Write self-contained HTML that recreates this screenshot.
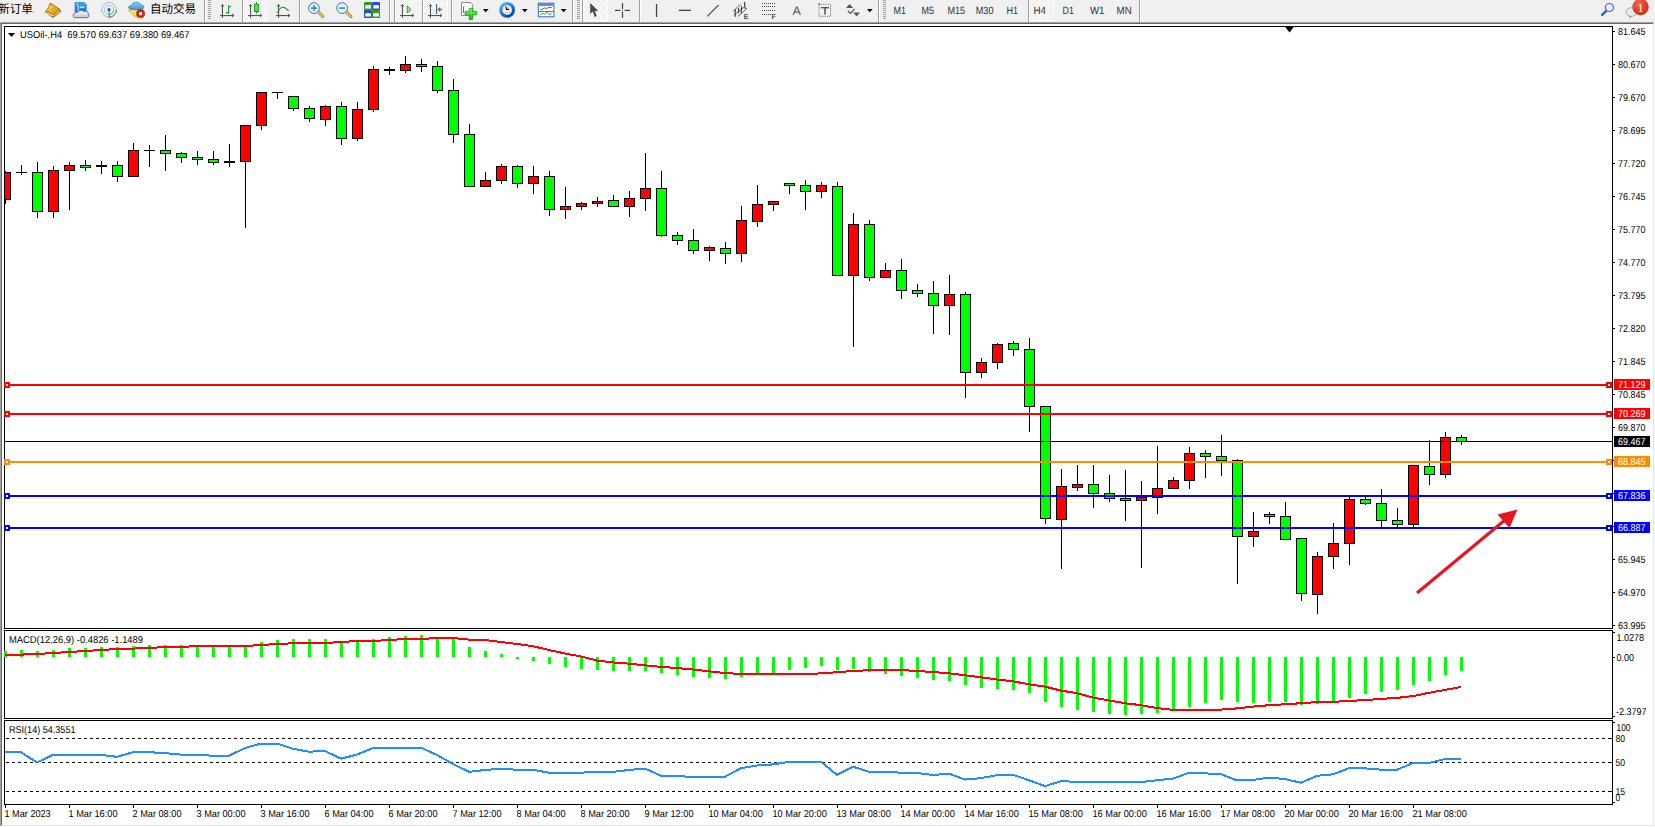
<!DOCTYPE html>
<html><head><meta charset="utf-8"><title>USOil-,H4</title>
<style>
html,body{margin:0;padding:0;width:1655px;height:827px;overflow:hidden;background:#f0f0f0;}
svg{position:absolute;left:0;top:0;display:block;font-family:'Liberation Sans', Arial, sans-serif;}
</style></head><body>
<svg width="1655" height="827" viewBox="0 0 1655 827" text-rendering="geometricPrecision">
<defs><pattern id="dither" x="0" y="0" width="2" height="2" patternUnits="userSpaceOnUse"><rect width="2" height="2" fill="#fff"/><rect width="1" height="1" fill="#ececec"/><rect x="1" y="1" width="1" height="1" fill="#ececec"/></pattern></defs>
<rect x="0" y="0" width="1655" height="22" fill="#f0f0f0"/>
<rect x="243" y="0" width="24" height="20" fill="url(#dither)"/>
<rect x="267" y="0" width="1" height="21" fill="#fff"/>
<rect x="242" y="20" width="26" height="1" fill="#fff"/>
<rect x="395" y="0" width="24" height="20" fill="url(#dither)"/>
<rect x="419" y="0" width="1" height="21" fill="#fff"/>
<rect x="394" y="20" width="26" height="1" fill="#fff"/>
<rect x="423" y="0" width="24" height="20" fill="url(#dither)"/>
<rect x="447" y="0" width="1" height="21" fill="#fff"/>
<rect x="422" y="20" width="26" height="1" fill="#fff"/>
<rect x="583" y="0" width="24" height="20" fill="url(#dither)"/>
<rect x="607" y="0" width="1" height="21" fill="#fff"/>
<rect x="582" y="20" width="26" height="1" fill="#fff"/>
<rect x="1029" y="0" width="24" height="20" fill="url(#dither)"/>
<rect x="1053" y="0" width="1" height="21" fill="#fff"/>
<rect x="1028" y="20" width="26" height="1" fill="#fff"/>
<text x="-2" y="13.1" font-size="12" font-family="'Liberation Sans', 'Noto Sans CJK SC', 'WenQuanYi Zen Hei', sans-serif" fill="#000" textLength="35" lengthAdjust="spacingAndGlyphs">新订单</text>
<text x="150" y="13.1" font-size="12" font-family="'Liberation Sans', 'Noto Sans CJK SC', 'WenQuanYi Zen Hei', sans-serif" fill="#000" textLength="46" lengthAdjust="spacingAndGlyphs">自动交易</text>
<rect x="204" y="0" width="1" height="22" fill="#a0a0a0"/>
<rect x="205" y="0" width="1" height="22" fill="#fff"/>
<rect x="208" y="0" width="3" height="1" fill="#a0a0a0"/>
<rect x="208" y="2" width="3" height="1" fill="#a0a0a0"/>
<rect x="208" y="4" width="3" height="1" fill="#a0a0a0"/>
<rect x="208" y="6" width="3" height="1" fill="#a0a0a0"/>
<rect x="208" y="8" width="3" height="1" fill="#a0a0a0"/>
<rect x="208" y="10" width="3" height="1" fill="#a0a0a0"/>
<rect x="208" y="12" width="3" height="1" fill="#a0a0a0"/>
<rect x="208" y="14" width="3" height="1" fill="#a0a0a0"/>
<rect x="208" y="16" width="3" height="1" fill="#a0a0a0"/>
<rect x="208" y="18" width="3" height="1" fill="#a0a0a0"/>
<rect x="242" y="0" width="1" height="22" fill="#a0a0a0"/>
<rect x="243" y="0" width="1" height="22" fill="#fff"/>
<rect x="299" y="0" width="1" height="22" fill="#a0a0a0"/>
<rect x="300" y="0" width="1" height="22" fill="#fff"/>
<rect x="389" y="0" width="1" height="22" fill="#a0a0a0"/>
<rect x="390" y="0" width="1" height="22" fill="#fff"/>
<rect x="394" y="0" width="1" height="22" fill="#a0a0a0"/>
<rect x="395" y="0" width="1" height="22" fill="#fff"/>
<rect x="422" y="0" width="1" height="22" fill="#a0a0a0"/>
<rect x="423" y="0" width="1" height="22" fill="#fff"/>
<rect x="451" y="0" width="1" height="22" fill="#a0a0a0"/>
<rect x="452" y="0" width="1" height="22" fill="#fff"/>
<rect x="572" y="0" width="1" height="22" fill="#a0a0a0"/>
<rect x="573" y="0" width="1" height="22" fill="#fff"/>
<rect x="577" y="0" width="3" height="1" fill="#a0a0a0"/>
<rect x="577" y="2" width="3" height="1" fill="#a0a0a0"/>
<rect x="577" y="4" width="3" height="1" fill="#a0a0a0"/>
<rect x="577" y="6" width="3" height="1" fill="#a0a0a0"/>
<rect x="577" y="8" width="3" height="1" fill="#a0a0a0"/>
<rect x="577" y="10" width="3" height="1" fill="#a0a0a0"/>
<rect x="577" y="12" width="3" height="1" fill="#a0a0a0"/>
<rect x="577" y="14" width="3" height="1" fill="#a0a0a0"/>
<rect x="577" y="16" width="3" height="1" fill="#a0a0a0"/>
<rect x="577" y="18" width="3" height="1" fill="#a0a0a0"/>
<rect x="582" y="0" width="1" height="22" fill="#a0a0a0"/>
<rect x="583" y="0" width="1" height="22" fill="#fff"/>
<rect x="639" y="0" width="1" height="22" fill="#a0a0a0"/>
<rect x="640" y="0" width="1" height="22" fill="#fff"/>
<rect x="878" y="0" width="1" height="22" fill="#a0a0a0"/>
<rect x="879" y="0" width="1" height="22" fill="#fff"/>
<rect x="883" y="0" width="3" height="1" fill="#a0a0a0"/>
<rect x="883" y="2" width="3" height="1" fill="#a0a0a0"/>
<rect x="883" y="4" width="3" height="1" fill="#a0a0a0"/>
<rect x="883" y="6" width="3" height="1" fill="#a0a0a0"/>
<rect x="883" y="8" width="3" height="1" fill="#a0a0a0"/>
<rect x="883" y="10" width="3" height="1" fill="#a0a0a0"/>
<rect x="883" y="12" width="3" height="1" fill="#a0a0a0"/>
<rect x="883" y="14" width="3" height="1" fill="#a0a0a0"/>
<rect x="883" y="16" width="3" height="1" fill="#a0a0a0"/>
<rect x="883" y="18" width="3" height="1" fill="#a0a0a0"/>
<rect x="1028" y="0" width="1" height="22" fill="#a0a0a0"/>
<rect x="1029" y="0" width="1" height="22" fill="#fff"/>
<rect x="1139" y="0" width="1" height="22" fill="#a0a0a0"/>
<rect x="1140" y="0" width="1" height="22" fill="#fff"/>
<text x="893.6" y="14" font-size="10.5" fill="#333" textLength="12.4" lengthAdjust="spacingAndGlyphs">M1</text>
<text x="921.5" y="14" font-size="10.5" fill="#333" textLength="12.5" lengthAdjust="spacingAndGlyphs">M5</text>
<text x="947.5" y="14" font-size="10.5" fill="#333" textLength="17.5" lengthAdjust="spacingAndGlyphs">M15</text>
<text x="975.7" y="14" font-size="10.5" fill="#333" textLength="17.8" lengthAdjust="spacingAndGlyphs">M30</text>
<text x="1006.5" y="14" font-size="10.5" fill="#333" textLength="11.5" lengthAdjust="spacingAndGlyphs">H1</text>
<text x="1033.5" y="14" font-size="10.5" fill="#333" textLength="12.5" lengthAdjust="spacingAndGlyphs">H4</text>
<text x="1062.6" y="14" font-size="10.5" fill="#333" textLength="11.4" lengthAdjust="spacingAndGlyphs">D1</text>
<text x="1090" y="14" font-size="10.5" fill="#333" textLength="14.5" lengthAdjust="spacingAndGlyphs">W1</text>
<text x="1116.6" y="14" font-size="10.5" fill="#333" textLength="15.2" lengthAdjust="spacingAndGlyphs">MN</text>

<defs>
 <linearGradient id="gBook" x1="0" y1="0" x2="1" y2="1"><stop offset="0" stop-color="#fde46a"/><stop offset="0.5" stop-color="#e8b418"/><stop offset="1" stop-color="#c98a0a"/></linearGradient>
 <linearGradient id="gBlue" x1="0" y1="0" x2="0" y2="1"><stop offset="0" stop-color="#3aa8f8"/><stop offset="1" stop-color="#0a78e0"/></linearGradient>
 <linearGradient id="gCloud" x1="0" y1="0" x2="0" y2="1"><stop offset="0" stop-color="#ffffff"/><stop offset="1" stop-color="#b8c4d8"/></linearGradient>
 <radialGradient id="gBadge" cx="0.4" cy="0.3" r="0.7"><stop offset="0" stop-color="#f06a48"/><stop offset="1" stop-color="#d22a10"/></radialGradient>
 <linearGradient id="gClock" x1="0.2" y1="0.1" x2="0.8" y2="0.95"><stop offset="0" stop-color="#50b4ff"/><stop offset="0.5" stop-color="#1a74e0"/><stop offset="1" stop-color="#003a98"/></linearGradient>
 <linearGradient id="gHat" x1="0" y1="0" x2="0" y2="1"><stop offset="0" stop-color="#8fd0f4"/><stop offset="1" stop-color="#3a9ad0"/></linearGradient>
 <linearGradient id="gPlus" x1="0" y1="0" x2="0" y2="1"><stop offset="0" stop-color="#6cff6c"/><stop offset="1" stop-color="#10c010"/></linearGradient>
</defs>
<!-- book -->
<path d="M50.3,3.1 L59.8,9.3 L60.9,11.8 L52.9,17.5 L45.2,11.8 Q47.4,9.6 48.6,7.4 Z" fill="#b07818" stroke="#9a5a08" stroke-width="0.8" stroke-linejoin="round"/>
<path d="M50.8,3.9 L59,9.4 L54.4,14.2 L46.6,10.9 Q48.5,8.6 49.4,6.2 Z" fill="url(#gBook)"/>
<path d="M46.3,11.9 L54.2,15.2 L52.8,16.6 L46,12.8 Z" fill="#f6dc90"/>
<path d="M55.2,14.6 L59.6,10.4 L60.2,11.8 L54,16.2 Z" fill="#e8dcaa"/>
<!-- blue box + cloud -->
<path d="M75,2.5 L84,2.5 L86.3,4.5 L86.3,12 L75,12 Z" fill="url(#gBlue)" stroke="#1a70d0" stroke-width="0.6"/>
<path d="M76,3 L78.2,5 L78.2,11.5" fill="none" stroke="#ffffff" stroke-width="0.8"/>
<rect x="79.8" y="6.6" width="4.5" height="1.2" fill="#ffffff"/>
<path d="M74.6,17.7 Q72.6,17 73.2,14.6 Q73.8,12.8 75.6,12.9 Q76.4,12.2 77.4,12.4 Q78.4,10.2 81,10.3 Q82.9,10.4 83.7,11.7 Q84.6,10.9 86,11.2 Q88.4,11.8 88.4,14 Q89.4,15 88.9,16.5 Q88.4,17.7 86.8,17.7 Z" fill="url(#gCloud)" stroke="#3a5a98" stroke-width="0.8"/>
<!-- signal -->
<circle cx="109" cy="9.8" r="7.4" fill="none" stroke="#7fa0e0" stroke-width="0.9" opacity="0.8"/>
<circle cx="109" cy="9.8" r="4.6" fill="none" stroke="#90a8e0" stroke-width="0.9" opacity="0.8"/>
<path d="M109,17.3 A7.4,7.4 0 0 0 116.4,9.8" fill="none" stroke="#40a040" stroke-width="1"/>
<path d="M109,14.4 A4.6,4.6 0 0 0 113.6,9.8" fill="none" stroke="#60b060" stroke-width="0.9"/>
<circle cx="109" cy="9.8" r="1.7" fill="#2a5ad0"/>
<rect x="108.6" y="10" width="1" height="7.6" fill="#20a020"/>
<!-- hat / autotrading -->
<path d="M128.3,10 L143.6,8.6 L136.2,17.8 Z" fill="#f4e060" stroke="#d0a020" stroke-width="0.7" stroke-linejoin="round"/>
<path d="M128.2,7.4 Q128.8,5.6 131.4,5.6 Q132.2,2.2 136.2,2.2 Q140,2.2 140.6,5 Q144.4,5 143.8,7.2 Q142.6,9.6 136,9.6 Q129.8,9.8 128.2,7.4 Z" fill="url(#gHat)" stroke="#2a7ab0" stroke-width="0.7"/>
<circle cx="140.6" cy="13.7" r="4.1" fill="#d42010" stroke="#b01808" stroke-width="0.5"/>
<rect x="139.1" y="12.2" width="3" height="3" fill="#ffffff"/>
<!-- bar chart icon -->
<g fill="#555" stroke="none">
 <rect x="221.9" y="5" width="1.1" height="12.8"/><path d="M222.45,3.9 L220.5,6.2 L224.4,6.2 Z"/>
 <rect x="220" y="15" width="13" height="1.1"/><path d="M234.3,15.55 L232,13.6 L232,17.5 Z"/>
 <rect x="250" y="5" width="1.1" height="12.8"/><path d="M250.55,3.9 L248.6,6.2 L252.5,6.2 Z"/>
 <rect x="248" y="15" width="13" height="1.1"/><path d="M262.3,15.55 L260,13.6 L260,17.5 Z"/>
 <rect x="278" y="5" width="1.1" height="12.8"/><path d="M278.55,3.9 L276.6,6.2 L280.5,6.2 Z"/>
 <rect x="276" y="15" width="13" height="1.1"/><path d="M290.3,15.55 L288,13.6 L288,17.5 Z"/>
</g>
<g stroke="#1a9a1a" stroke-width="1.1" fill="none">
 <path d="M228.6,5.2 L228.6,13.7 M228.6,6.6 L230.8,6.6 M226,12.6 L228.6,12.6"/>
 <path d="M256.5,2.2 L256.5,13.7"/>
 <path d="M277.2,12.8 Q280.5,7 283,7.2 Q285.5,7.4 288.6,11"/>
</g>
<rect x="254.4" y="4.2" width="4.3" height="7.4" fill="#50e050" stroke="#109010" stroke-width="0.9"/>
<!-- zoom in / out -->
<g>
 <path d="M318.2,11.8 L322.8,16.5" stroke="#a07010" stroke-width="3" stroke-linecap="round"/>
 <path d="M318.2,11.8 L322.8,16.5" stroke="#f0d860" stroke-width="1.6" stroke-linecap="round"/>
 <circle cx="314" cy="8.1" r="5.4" fill="#e0f4fc" stroke="#3a7ed0" stroke-width="1"/>
 <path d="M311,8.1 L317,8.1 M314,5.1 L314,11.1" stroke="#4a88b8" stroke-width="1.6"/>
 <path d="M346.3,11.8 L350.9,16.5" stroke="#a07010" stroke-width="3" stroke-linecap="round"/>
 <path d="M346.3,11.8 L350.9,16.5" stroke="#f0d860" stroke-width="1.6" stroke-linecap="round"/>
 <circle cx="342.1" cy="8.1" r="5.4" fill="#e0f4fc" stroke="#3a7ed0" stroke-width="1"/>
 <path d="M339.1,8.1 L345.1,8.1" stroke="#4a88b8" stroke-width="1.6"/>
</g>
<!-- tile windows -->
<g>
 <rect x="364" y="2" width="8" height="8" rx="0.8" fill="#3a9a1a"/>
 <rect x="372" y="2" width="8" height="8" rx="0.8" fill="#2050d0"/>
 <rect x="364" y="10" width="8" height="8" rx="0.8" fill="#2050d0"/>
 <rect x="372" y="10" width="8" height="8" rx="0.8" fill="#3a9a1a"/>
 <rect x="365.3" y="5.2" width="5.6" height="3.3" fill="#fff"/>
 <rect x="373.3" y="5.2" width="5.6" height="3.3" fill="#fff"/>
 <rect x="365.3" y="13.2" width="5.6" height="3.3" fill="#fff"/>
 <rect x="373.3" y="13.2" width="5.6" height="3.3" fill="#fff"/>
</g>
<!-- autoscroll / shift -->
<g fill="#555">
 <rect x="401.9" y="5" width="1.1" height="12.8"/><path d="M402.45,3.9 L400.5,6.2 L404.4,6.2 Z"/>
 <rect x="400" y="15" width="13" height="1.1"/><path d="M414.3,15.55 L412,13.6 L412,17.5 Z"/>
 <rect x="429.9" y="5" width="1.1" height="12.8"/><path d="M430.45,3.9 L428.5,6.2 L432.4,6.2 Z"/>
 <rect x="428" y="15" width="13" height="1.1"/><path d="M442.3,15.55 L440,13.6 L440,17.5 Z"/>
</g>
<path d="M407.3,6 L411,9.5 L407.3,12.9 Z" fill="#9af09a" stroke="#10a010" stroke-width="0.9"/>
<rect x="436" y="4" width="1.1" height="10" fill="#1a70b0"/>
<path d="M437.4,9.5 L440,7.6 L439.4,9 L441.8,9 L441.8,10 L439.4,10 L440,11.4 Z" fill="#f05a10" stroke="#c03000" stroke-width="0.5"/>
<!-- new chart doc + plus -->
<path d="M461.5,2.5 L470.5,2.5 L472.7,4.7 L472.7,15.5 L461.5,15.5 Z" fill="#fff" stroke="#707070" stroke-width="0.8"/>
<path d="M464.3,6 Q463.3,6.5 463.5,8.5 L463.5,13" fill="none" stroke="#504030" stroke-width="0.8"/>
<path d="M469.2,8.3 L472.6,8.3 L472.6,11.4 L476.8,11.4 L476.8,14.8 L472.6,14.8 L472.6,19.6 L469.2,19.6 L469.2,14.8 L465,14.8 L465,11.4 L469.2,11.4 Z" fill="url(#gPlus)" stroke="#0a8a0a" stroke-width="0.7"/>
<!-- clock -->
<circle cx="507.1" cy="9.9" r="7.9" fill="url(#gClock)"/>
<circle cx="507" cy="9.95" r="5.1" fill="#fdfdfd" stroke="#0a4ab0" stroke-width="0.4"/>
<g fill="#555"><circle cx="503.3" cy="8.6" r="0.45"/><circle cx="502.6" cy="10.3" r="0.45"/><circle cx="503.5" cy="12.3" r="0.45"/><circle cx="505.3" cy="13.4" r="0.45"/><circle cx="509.2" cy="12.3" r="0.45"/><circle cx="508.6" cy="7.3" r="0.45"/></g>
<rect x="506" y="12.1" width="1.6" height="0.6" fill="#4a8ae0"/>
<path d="M505.8,6.3 L506.6,9.3 L509.4,9.4" fill="none" stroke="#111" stroke-width="1.2"/>
<!-- template -->
<rect x="538.3" y="3.2" width="15.6" height="13.6" fill="#fff" stroke="#2a6ac8" stroke-width="1"/>
<rect x="538.8" y="3.7" width="14.6" height="2.2" fill="#4a8ae0"/>
<rect x="538.8" y="11" width="14.6" height="0.9" fill="#2a6ac8"/>
<path d="M540.2,9.4 L542.5,9.2 L544.5,7.9 L546.5,8.6 L548.5,7.4 L551.8,7.7" fill="none" stroke="#b02010" stroke-width="0.9"/>
<path d="M540.2,14.6 L542.5,13.4 L544.5,14.1 L547.2,12.2 L549.5,14.8 L551.8,13.5" fill="none" stroke="#20a020" stroke-width="0.9"/>
<!-- dropdown arrows -->
<g fill="#000">
 <path d="M482.8,9 L488.6,9 L485.7,12.2 Z"/>
 <path d="M521.9,9 L527.7,9 L524.8,12.2 Z"/>
 <path d="M560.7,9 L566.5,9 L563.6,12.2 Z"/>
 <path d="M866.9,9 L872.7,9 L869.8,12.2 Z"/>
</g>
<!-- cursor -->
<path d="M590.2,3 L590.2,13.9 L592.8,11.5 L594.6,16.9 L596.7,16.1 L594.9,10.9 L598.2,10.7 Z" fill="#4a4a4a"/>
<!-- crosshair -->
<g fill="#444">
 <rect x="621.9" y="3" width="1.2" height="6"/>
 <rect x="621.9" y="11.8" width="1.2" height="6"/>
 <rect x="615" y="9.8" width="5.4" height="1.2"/>
 <rect x="624.6" y="9.8" width="5.4" height="1.2"/>
 <rect x="621.9" y="9.8" width="1.2" height="1.2" opacity="0.5"/>
 <rect x="655.9" y="4" width="1.3" height="13"/>
 <rect x="679" y="9.7" width="12" height="1.3"/>
</g>
<path d="M707.2,16.3 L718.6,5.1" stroke="#444" stroke-width="1.1"/>
<!-- channel -->
<g stroke="#444" fill="none">
 <path d="M732.9,11.4 L740.6,4.3 M733.8,15.3 L744.5,6.8 M738,16.5 L747,8.3" stroke-width="0.8"/>
 <path d="M735.5,9.4 Q734.9,13 735.4,16.8 M738.5,8 L738.6,13.3 M741.5,6.2 L741.3,13.2 M744.6,2 Q744.4,6 745.4,8.8" stroke-width="1.2"/>
</g>
<text x="743.7" y="19" font-size="7" font-weight="bold" fill="#444">E</text>
<!-- fibo -->
<g stroke="#444" stroke-width="1" stroke-dasharray="1,1" fill="none">
 <path d="M762,3.5 L775.3,3.5 M762,6.5 L775.3,6.5 M762,10.5 L775.3,10.5 M762,14.5 L771,14.5"/>
</g>
<text x="771.6" y="19" font-size="7" font-weight="bold" fill="#444">F</text>
<!-- A / T -->
<text x="792.6" y="14.8" font-size="12.5" fill="#555">A</text>
<rect x="819" y="4.3" width="11.6" height="12" fill="none" stroke="#555" stroke-width="0.9" stroke-dasharray="1,1.2"/>
<rect x="818.5" y="3.3" width="1.5" height="1.5" fill="#555"/>
<rect x="821" y="7" width="7.8" height="1.4" fill="#555"/>
<rect x="824.2" y="7" width="1.5" height="7.6" fill="#555"/>
<!-- arrows/check -->
<path d="M846,7.9 L849.6,3.9 L853.2,7.9 Z" fill="#555"/>
<path d="M853.2,12.4 L860,12.4 L856.6,16.6 Z" fill="#555"/>
<path d="M847.8,11 L850.6,13.3 L854.6,8.8" fill="none" stroke="#555" stroke-width="1.2"/>
<!-- search -->
<path d="M1606.6,10.6 L1602.2,14.8" stroke="#2f66d8" stroke-width="2.6" stroke-linecap="round"/>
<circle cx="1609.4" cy="7.5" r="4" fill="#eef0ff" stroke="#2f66d8" stroke-width="1.2"/>
<!-- chat bubble + badge -->
<ellipse cx="1631.4" cy="12" rx="5.3" ry="4.4" fill="#e8e8f0" stroke="#9a9a9a" stroke-width="0.8"/>
<path d="M1629,15.6 L1629.6,18.6 L1632,16.2 Z" fill="#9a9a9a"/>
<circle cx="1640.5" cy="7" r="8.2" fill="url(#gBadge)"/>
<text x="1637.4" y="11.9" font-size="12" font-family="'Liberation Serif', serif" fill="#fff">1</text>

<rect x="0" y="22" width="1655" height="805" fill="#fff"/>
<rect x="0" y="22" width="1654" height="1" fill="#a0a0a0"/>
<rect x="0" y="22" width="1" height="804" fill="#a0a0a0"/>
<rect x="1" y="23" width="1652" height="1" fill="#696969"/>
<rect x="1" y="23" width="1" height="802" fill="#696969"/>
<rect x="1653" y="23" width="1" height="803" fill="#e3e3e3"/>
<rect x="1" y="825" width="1653" height="1" fill="#e3e3e3"/>
<rect x="4.5" y="26.5" width="1608" height="602" fill="none" stroke="#000" stroke-width="1"/>
<rect x="4.5" y="630.5" width="1608" height="88" fill="none" stroke="#000" stroke-width="1"/>
<rect x="4.5" y="720.5" width="1608" height="84" fill="none" stroke="#000" stroke-width="1"/>
<defs><clipPath id="cm"><rect x="5" y="27" width="1607" height="601"/></clipPath></defs>
<g clip-path="url(#cm)" shape-rendering="crispEdges">
<rect x="5" y="171" width="1" height="33" fill="#000"/>
<rect x="0" y="172" width="11" height="28" fill="#000"/>
<rect x="1" y="173" width="9" height="26" fill="#ff0000"/>
<rect x="21" y="165" width="1" height="10" fill="#000"/>
<rect x="16" y="172" width="11" height="1" fill="#000"/>
<rect x="37" y="162" width="1" height="56" fill="#000"/>
<rect x="32" y="172" width="11" height="40" fill="#000"/>
<rect x="33" y="173" width="9" height="38" fill="#00ff00"/>
<rect x="53" y="166" width="1" height="52" fill="#000"/>
<rect x="48" y="170" width="11" height="42" fill="#000"/>
<rect x="49" y="171" width="9" height="40" fill="#ff0000"/>
<rect x="69" y="162" width="1" height="48" fill="#000"/>
<rect x="64" y="165" width="11" height="6" fill="#000"/>
<rect x="65" y="166" width="9" height="4" fill="#ff0000"/>
<rect x="85" y="160" width="1" height="11" fill="#000"/>
<rect x="80" y="165" width="11" height="3" fill="#000"/>
<rect x="81" y="166" width="9" height="1" fill="#00ff00"/>
<rect x="101" y="161" width="1" height="13" fill="#000"/>
<rect x="96" y="165" width="11" height="2" fill="#000"/>
<rect x="117" y="161" width="1" height="21" fill="#000"/>
<rect x="112" y="165" width="11" height="12" fill="#000"/>
<rect x="113" y="166" width="9" height="10" fill="#00ff00"/>
<rect x="133" y="143" width="1" height="34" fill="#000"/>
<rect x="128" y="150" width="11" height="27" fill="#000"/>
<rect x="129" y="151" width="9" height="25" fill="#ff0000"/>
<rect x="149" y="145" width="1" height="22" fill="#000"/>
<rect x="144" y="150" width="11" height="1" fill="#000"/>
<rect x="165" y="135" width="1" height="36" fill="#000"/>
<rect x="160" y="150" width="11" height="4" fill="#000"/>
<rect x="161" y="151" width="9" height="2" fill="#00ff00"/>
<rect x="181" y="152" width="1" height="11" fill="#000"/>
<rect x="176" y="153" width="11" height="5" fill="#000"/>
<rect x="177" y="154" width="9" height="3" fill="#00ff00"/>
<rect x="197" y="151" width="1" height="14" fill="#000"/>
<rect x="192" y="157" width="11" height="3" fill="#000"/>
<rect x="193" y="158" width="9" height="1" fill="#00ff00"/>
<rect x="213" y="151" width="1" height="14" fill="#000"/>
<rect x="208" y="159" width="11" height="4" fill="#000"/>
<rect x="209" y="160" width="9" height="2" fill="#00ff00"/>
<rect x="229" y="144" width="1" height="23" fill="#000"/>
<rect x="224" y="161" width="11" height="2" fill="#000"/>
<rect x="245" y="125" width="1" height="103" fill="#000"/>
<rect x="240" y="125" width="11" height="37" fill="#000"/>
<rect x="241" y="126" width="9" height="35" fill="#ff0000"/>
<rect x="261" y="92" width="1" height="38" fill="#000"/>
<rect x="256" y="92" width="11" height="34" fill="#000"/>
<rect x="257" y="93" width="9" height="32" fill="#ff0000"/>
<rect x="277" y="92" width="1" height="7" fill="#000"/>
<rect x="272" y="92" width="11" height="1" fill="#000"/>
<rect x="293" y="96" width="1" height="15" fill="#000"/>
<rect x="288" y="96" width="11" height="13" fill="#000"/>
<rect x="289" y="97" width="9" height="11" fill="#00ff00"/>
<rect x="309" y="106" width="1" height="16" fill="#000"/>
<rect x="304" y="108" width="11" height="11" fill="#000"/>
<rect x="305" y="109" width="9" height="9" fill="#00ff00"/>
<rect x="325" y="105" width="1" height="21" fill="#000"/>
<rect x="320" y="106" width="11" height="14" fill="#000"/>
<rect x="321" y="107" width="9" height="12" fill="#ff0000"/>
<rect x="341" y="102" width="1" height="43" fill="#000"/>
<rect x="336" y="106" width="11" height="33" fill="#000"/>
<rect x="337" y="107" width="9" height="31" fill="#00ff00"/>
<rect x="357" y="102" width="1" height="39" fill="#000"/>
<rect x="352" y="109" width="11" height="30" fill="#000"/>
<rect x="353" y="110" width="9" height="28" fill="#ff0000"/>
<rect x="373" y="66" width="1" height="46" fill="#000"/>
<rect x="368" y="69" width="11" height="41" fill="#000"/>
<rect x="369" y="70" width="9" height="39" fill="#ff0000"/>
<rect x="389" y="67" width="1" height="8" fill="#000"/>
<rect x="384" y="69" width="11" height="2" fill="#000"/>
<rect x="405" y="56" width="1" height="17" fill="#000"/>
<rect x="400" y="64" width="11" height="7" fill="#000"/>
<rect x="401" y="65" width="9" height="5" fill="#ff0000"/>
<rect x="421" y="59" width="1" height="13" fill="#000"/>
<rect x="416" y="64" width="11" height="3" fill="#000"/>
<rect x="417" y="65" width="9" height="1" fill="#00ff00"/>
<rect x="437" y="61" width="1" height="32" fill="#000"/>
<rect x="432" y="66" width="11" height="25" fill="#000"/>
<rect x="433" y="67" width="9" height="23" fill="#00ff00"/>
<rect x="453" y="79" width="1" height="64" fill="#000"/>
<rect x="448" y="90" width="11" height="45" fill="#000"/>
<rect x="449" y="91" width="9" height="43" fill="#00ff00"/>
<rect x="469" y="124" width="1" height="63" fill="#000"/>
<rect x="464" y="134" width="11" height="53" fill="#000"/>
<rect x="465" y="135" width="9" height="51" fill="#00ff00"/>
<rect x="485" y="172" width="1" height="15" fill="#000"/>
<rect x="480" y="180" width="11" height="7" fill="#000"/>
<rect x="481" y="181" width="9" height="5" fill="#ff0000"/>
<rect x="501" y="164" width="1" height="20" fill="#000"/>
<rect x="496" y="166" width="11" height="15" fill="#000"/>
<rect x="497" y="167" width="9" height="13" fill="#ff0000"/>
<rect x="517" y="165" width="1" height="23" fill="#000"/>
<rect x="512" y="166" width="11" height="18" fill="#000"/>
<rect x="513" y="167" width="9" height="16" fill="#00ff00"/>
<rect x="533" y="166" width="1" height="28" fill="#000"/>
<rect x="528" y="176" width="11" height="8" fill="#000"/>
<rect x="529" y="177" width="9" height="6" fill="#ff0000"/>
<rect x="549" y="171" width="1" height="45" fill="#000"/>
<rect x="544" y="176" width="11" height="34" fill="#000"/>
<rect x="545" y="177" width="9" height="32" fill="#00ff00"/>
<rect x="565" y="187" width="1" height="32" fill="#000"/>
<rect x="560" y="206" width="11" height="4" fill="#000"/>
<rect x="561" y="207" width="9" height="2" fill="#ff0000"/>
<rect x="581" y="202" width="1" height="8" fill="#000"/>
<rect x="576" y="203" width="11" height="4" fill="#000"/>
<rect x="577" y="204" width="9" height="2" fill="#ff0000"/>
<rect x="597" y="197" width="1" height="10" fill="#000"/>
<rect x="592" y="201" width="11" height="3" fill="#000"/>
<rect x="593" y="202" width="9" height="1" fill="#ff0000"/>
<rect x="613" y="195" width="1" height="12" fill="#000"/>
<rect x="608" y="200" width="11" height="7" fill="#000"/>
<rect x="609" y="201" width="9" height="5" fill="#00ff00"/>
<rect x="629" y="191" width="1" height="26" fill="#000"/>
<rect x="624" y="198" width="11" height="9" fill="#000"/>
<rect x="625" y="199" width="9" height="7" fill="#ff0000"/>
<rect x="645" y="153" width="1" height="58" fill="#000"/>
<rect x="640" y="188" width="11" height="11" fill="#000"/>
<rect x="641" y="189" width="9" height="9" fill="#ff0000"/>
<rect x="661" y="171" width="1" height="66" fill="#000"/>
<rect x="656" y="188" width="11" height="48" fill="#000"/>
<rect x="657" y="189" width="9" height="46" fill="#00ff00"/>
<rect x="677" y="232" width="1" height="13" fill="#000"/>
<rect x="672" y="235" width="11" height="6" fill="#000"/>
<rect x="673" y="236" width="9" height="4" fill="#00ff00"/>
<rect x="693" y="229" width="1" height="25" fill="#000"/>
<rect x="688" y="240" width="11" height="11" fill="#000"/>
<rect x="689" y="241" width="9" height="9" fill="#00ff00"/>
<rect x="709" y="246" width="1" height="15" fill="#000"/>
<rect x="704" y="247" width="11" height="4" fill="#000"/>
<rect x="705" y="248" width="9" height="2" fill="#ff0000"/>
<rect x="725" y="242" width="1" height="22" fill="#000"/>
<rect x="720" y="248" width="11" height="6" fill="#000"/>
<rect x="721" y="249" width="9" height="4" fill="#00ff00"/>
<rect x="741" y="206" width="1" height="56" fill="#000"/>
<rect x="736" y="220" width="11" height="34" fill="#000"/>
<rect x="737" y="221" width="9" height="32" fill="#ff0000"/>
<rect x="757" y="185" width="1" height="42" fill="#000"/>
<rect x="752" y="204" width="11" height="18" fill="#000"/>
<rect x="753" y="205" width="9" height="16" fill="#ff0000"/>
<rect x="773" y="201" width="1" height="10" fill="#000"/>
<rect x="768" y="201" width="11" height="4" fill="#000"/>
<rect x="769" y="202" width="9" height="2" fill="#ff0000"/>
<rect x="789" y="183" width="1" height="11" fill="#000"/>
<rect x="784" y="183" width="11" height="3" fill="#000"/>
<rect x="785" y="184" width="9" height="1" fill="#00ff00"/>
<rect x="805" y="180" width="1" height="30" fill="#000"/>
<rect x="800" y="185" width="11" height="7" fill="#000"/>
<rect x="801" y="186" width="9" height="5" fill="#00ff00"/>
<rect x="821" y="182" width="1" height="16" fill="#000"/>
<rect x="816" y="185" width="11" height="7" fill="#000"/>
<rect x="817" y="186" width="9" height="5" fill="#ff0000"/>
<rect x="837" y="182" width="1" height="94" fill="#000"/>
<rect x="832" y="186" width="11" height="90" fill="#000"/>
<rect x="833" y="187" width="9" height="88" fill="#00ff00"/>
<rect x="853" y="213" width="1" height="134" fill="#000"/>
<rect x="848" y="224" width="11" height="52" fill="#000"/>
<rect x="849" y="225" width="9" height="50" fill="#ff0000"/>
<rect x="869" y="220" width="1" height="61" fill="#000"/>
<rect x="864" y="224" width="11" height="54" fill="#000"/>
<rect x="865" y="225" width="9" height="52" fill="#00ff00"/>
<rect x="885" y="263" width="1" height="15" fill="#000"/>
<rect x="880" y="270" width="11" height="8" fill="#000"/>
<rect x="881" y="271" width="9" height="6" fill="#ff0000"/>
<rect x="901" y="259" width="1" height="40" fill="#000"/>
<rect x="896" y="270" width="11" height="21" fill="#000"/>
<rect x="897" y="271" width="9" height="19" fill="#00ff00"/>
<rect x="917" y="284" width="1" height="13" fill="#000"/>
<rect x="912" y="290" width="11" height="4" fill="#000"/>
<rect x="913" y="291" width="9" height="2" fill="#00ff00"/>
<rect x="933" y="281" width="1" height="53" fill="#000"/>
<rect x="928" y="293" width="11" height="13" fill="#000"/>
<rect x="929" y="294" width="9" height="11" fill="#00ff00"/>
<rect x="949" y="275" width="1" height="60" fill="#000"/>
<rect x="944" y="294" width="11" height="12" fill="#000"/>
<rect x="945" y="295" width="9" height="10" fill="#ff0000"/>
<rect x="965" y="292" width="1" height="106" fill="#000"/>
<rect x="960" y="294" width="11" height="79" fill="#000"/>
<rect x="961" y="295" width="9" height="77" fill="#00ff00"/>
<rect x="981" y="358" width="1" height="20" fill="#000"/>
<rect x="976" y="362" width="11" height="11" fill="#000"/>
<rect x="977" y="363" width="9" height="9" fill="#ff0000"/>
<rect x="997" y="343" width="1" height="26" fill="#000"/>
<rect x="992" y="344" width="11" height="19" fill="#000"/>
<rect x="993" y="345" width="9" height="17" fill="#ff0000"/>
<rect x="1013" y="341" width="1" height="15" fill="#000"/>
<rect x="1008" y="343" width="11" height="7" fill="#000"/>
<rect x="1009" y="344" width="9" height="5" fill="#00ff00"/>
<rect x="1029" y="338" width="1" height="94" fill="#000"/>
<rect x="1024" y="349" width="11" height="58" fill="#000"/>
<rect x="1025" y="350" width="9" height="56" fill="#00ff00"/>
<rect x="1045" y="406" width="1" height="118" fill="#000"/>
<rect x="1040" y="406" width="11" height="113" fill="#000"/>
<rect x="1041" y="407" width="9" height="111" fill="#00ff00"/>
<rect x="1061" y="469" width="1" height="100" fill="#000"/>
<rect x="1056" y="486" width="11" height="34" fill="#000"/>
<rect x="1057" y="487" width="9" height="32" fill="#ff0000"/>
<rect x="1077" y="465" width="1" height="26" fill="#000"/>
<rect x="1072" y="484" width="11" height="4" fill="#000"/>
<rect x="1073" y="485" width="9" height="2" fill="#ff0000"/>
<rect x="1093" y="465" width="1" height="43" fill="#000"/>
<rect x="1088" y="484" width="11" height="10" fill="#000"/>
<rect x="1089" y="485" width="9" height="8" fill="#00ff00"/>
<rect x="1109" y="475" width="1" height="27" fill="#000"/>
<rect x="1104" y="493" width="11" height="6" fill="#000"/>
<rect x="1105" y="494" width="9" height="4" fill="#00ff00"/>
<rect x="1125" y="470" width="1" height="51" fill="#000"/>
<rect x="1120" y="498" width="11" height="3" fill="#000"/>
<rect x="1121" y="499" width="9" height="1" fill="#00ff00"/>
<rect x="1141" y="481" width="1" height="87" fill="#000"/>
<rect x="1136" y="497" width="11" height="4" fill="#000"/>
<rect x="1137" y="498" width="9" height="2" fill="#ff0000"/>
<rect x="1157" y="446" width="1" height="68" fill="#000"/>
<rect x="1152" y="488" width="11" height="10" fill="#000"/>
<rect x="1153" y="489" width="9" height="8" fill="#ff0000"/>
<rect x="1173" y="477" width="1" height="12" fill="#000"/>
<rect x="1168" y="480" width="11" height="9" fill="#000"/>
<rect x="1169" y="481" width="9" height="7" fill="#ff0000"/>
<rect x="1189" y="447" width="1" height="42" fill="#000"/>
<rect x="1184" y="453" width="11" height="28" fill="#000"/>
<rect x="1185" y="454" width="9" height="26" fill="#ff0000"/>
<rect x="1205" y="450" width="1" height="28" fill="#000"/>
<rect x="1200" y="453" width="11" height="4" fill="#000"/>
<rect x="1201" y="454" width="9" height="2" fill="#00ff00"/>
<rect x="1221" y="435" width="1" height="41" fill="#000"/>
<rect x="1216" y="456" width="11" height="5" fill="#000"/>
<rect x="1217" y="457" width="9" height="3" fill="#00ff00"/>
<rect x="1237" y="459" width="1" height="125" fill="#000"/>
<rect x="1232" y="460" width="11" height="77" fill="#000"/>
<rect x="1233" y="461" width="9" height="75" fill="#00ff00"/>
<rect x="1253" y="512" width="1" height="35" fill="#000"/>
<rect x="1248" y="531" width="11" height="6" fill="#000"/>
<rect x="1249" y="532" width="9" height="4" fill="#ff0000"/>
<rect x="1269" y="512" width="1" height="12" fill="#000"/>
<rect x="1264" y="514" width="11" height="3" fill="#000"/>
<rect x="1265" y="515" width="9" height="1" fill="#00ff00"/>
<rect x="1285" y="502" width="1" height="38" fill="#000"/>
<rect x="1280" y="516" width="11" height="24" fill="#000"/>
<rect x="1281" y="517" width="9" height="22" fill="#00ff00"/>
<rect x="1301" y="538" width="1" height="63" fill="#000"/>
<rect x="1296" y="538" width="11" height="56" fill="#000"/>
<rect x="1297" y="539" width="9" height="54" fill="#00ff00"/>
<rect x="1317" y="552" width="1" height="62" fill="#000"/>
<rect x="1312" y="556" width="11" height="39" fill="#000"/>
<rect x="1313" y="557" width="9" height="37" fill="#ff0000"/>
<rect x="1333" y="523" width="1" height="46" fill="#000"/>
<rect x="1328" y="543" width="11" height="14" fill="#000"/>
<rect x="1329" y="544" width="9" height="12" fill="#ff0000"/>
<rect x="1349" y="497" width="1" height="68" fill="#000"/>
<rect x="1344" y="499" width="11" height="45" fill="#000"/>
<rect x="1345" y="500" width="9" height="43" fill="#ff0000"/>
<rect x="1365" y="497" width="1" height="8" fill="#000"/>
<rect x="1360" y="499" width="11" height="5" fill="#000"/>
<rect x="1361" y="500" width="9" height="3" fill="#00ff00"/>
<rect x="1381" y="489" width="1" height="38" fill="#000"/>
<rect x="1376" y="503" width="11" height="18" fill="#000"/>
<rect x="1377" y="504" width="9" height="16" fill="#00ff00"/>
<rect x="1397" y="508" width="1" height="19" fill="#000"/>
<rect x="1392" y="520" width="11" height="5" fill="#000"/>
<rect x="1393" y="521" width="9" height="3" fill="#00ff00"/>
<rect x="1413" y="465" width="1" height="62" fill="#000"/>
<rect x="1408" y="465" width="11" height="60" fill="#000"/>
<rect x="1409" y="466" width="9" height="58" fill="#ff0000"/>
<rect x="1429" y="440" width="1" height="45" fill="#000"/>
<rect x="1424" y="466" width="11" height="9" fill="#000"/>
<rect x="1425" y="467" width="9" height="7" fill="#00ff00"/>
<rect x="1445" y="432" width="1" height="46" fill="#000"/>
<rect x="1440" y="437" width="11" height="38" fill="#000"/>
<rect x="1441" y="438" width="9" height="36" fill="#ff0000"/>
<rect x="1461" y="435" width="1" height="10" fill="#000"/>
<rect x="1456" y="437" width="11" height="5" fill="#000"/>
<rect x="1457" y="438" width="9" height="3" fill="#00ff00"/>
</g>
<polygon points="1284.5,26 1294.5,26 1289.5,32.5" fill="#000"/>
<rect x="5" y="384" width="1607" height="2" fill="#ff0000"/>
<rect x="4" y="382" width="6" height="6" fill="#ff0000"/>
<rect x="6" y="384" width="2" height="2" fill="#fff"/>
<rect x="1606" y="382" width="6" height="6" fill="#ff0000"/>
<rect x="1608" y="384" width="2" height="2" fill="#fff"/>
<rect x="5" y="413" width="1607" height="2" fill="#ff0000"/>
<rect x="4" y="411" width="6" height="6" fill="#ff0000"/>
<rect x="6" y="413" width="2" height="2" fill="#fff"/>
<rect x="1606" y="411" width="6" height="6" fill="#ff0000"/>
<rect x="1608" y="413" width="2" height="2" fill="#fff"/>
<rect x="5" y="441" width="1607" height="1" fill="#000"/>
<rect x="5" y="461" width="1607" height="2" fill="#ff8c00"/>
<rect x="4" y="459" width="6" height="6" fill="#ff8c00"/>
<rect x="6" y="461" width="2" height="2" fill="#fff"/>
<rect x="1606" y="459" width="6" height="6" fill="#ff8c00"/>
<rect x="1608" y="461" width="2" height="2" fill="#fff"/>
<rect x="5" y="495" width="1607" height="2" fill="#0000ff"/>
<rect x="4" y="493" width="6" height="6" fill="#0000ff"/>
<rect x="6" y="495" width="2" height="2" fill="#fff"/>
<rect x="1606" y="493" width="6" height="6" fill="#0000ff"/>
<rect x="1608" y="495" width="2" height="2" fill="#fff"/>
<rect x="5" y="527" width="1607" height="2" fill="#0000ff"/>
<rect x="4" y="525" width="6" height="6" fill="#0000ff"/>
<rect x="6" y="527" width="2" height="2" fill="#fff"/>
<rect x="1606" y="525" width="6" height="6" fill="#0000ff"/>
<rect x="1608" y="527" width="2" height="2" fill="#fff"/>
<line x1="1417" y1="593" x2="1505" y2="520" stroke="#e8141e" stroke-width="3.2"/>
<polygon points="1497.5,514.5 1517.5,509.5 1509.5,528" fill="#e8141e"/>
<rect x="1613" y="31" width="2" height="1" fill="#000"/>
<text x="1618" y="35" font-size="10" fill="#000" textLength="27.5" lengthAdjust="spacingAndGlyphs">81.645</text>
<rect x="1613" y="64" width="2" height="1" fill="#000"/>
<text x="1618" y="68" font-size="10" fill="#000" textLength="27.5" lengthAdjust="spacingAndGlyphs">80.670</text>
<rect x="1613" y="97" width="2" height="1" fill="#000"/>
<text x="1618" y="101" font-size="10" fill="#000" textLength="27.5" lengthAdjust="spacingAndGlyphs">79.670</text>
<rect x="1613" y="130" width="2" height="1" fill="#000"/>
<text x="1618" y="134" font-size="10" fill="#000" textLength="27.5" lengthAdjust="spacingAndGlyphs">78.695</text>
<rect x="1613" y="163" width="2" height="1" fill="#000"/>
<text x="1618" y="167" font-size="10" fill="#000" textLength="27.5" lengthAdjust="spacingAndGlyphs">77.720</text>
<rect x="1613" y="196" width="2" height="1" fill="#000"/>
<text x="1618" y="200" font-size="10" fill="#000" textLength="27.5" lengthAdjust="spacingAndGlyphs">76.745</text>
<rect x="1613" y="229" width="2" height="1" fill="#000"/>
<text x="1618" y="233" font-size="10" fill="#000" textLength="27.5" lengthAdjust="spacingAndGlyphs">75.770</text>
<rect x="1613" y="262" width="2" height="1" fill="#000"/>
<text x="1618" y="266" font-size="10" fill="#000" textLength="27.5" lengthAdjust="spacingAndGlyphs">74.770</text>
<rect x="1613" y="295" width="2" height="1" fill="#000"/>
<text x="1618" y="299" font-size="10" fill="#000" textLength="27.5" lengthAdjust="spacingAndGlyphs">73.795</text>
<rect x="1613" y="328" width="2" height="1" fill="#000"/>
<text x="1618" y="332" font-size="10" fill="#000" textLength="27.5" lengthAdjust="spacingAndGlyphs">72.820</text>
<rect x="1613" y="361" width="2" height="1" fill="#000"/>
<text x="1618" y="365" font-size="10" fill="#000" textLength="27.5" lengthAdjust="spacingAndGlyphs">71.845</text>
<rect x="1613" y="394" width="2" height="1" fill="#000"/>
<text x="1618" y="398" font-size="10" fill="#000" textLength="27.5" lengthAdjust="spacingAndGlyphs">70.845</text>
<rect x="1613" y="427" width="2" height="1" fill="#000"/>
<text x="1618" y="431" font-size="10" fill="#000" textLength="27.5" lengthAdjust="spacingAndGlyphs">69.870</text>
<rect x="1613" y="460" width="2" height="1" fill="#000"/>
<rect x="1613" y="493" width="2" height="1" fill="#000"/>
<rect x="1613" y="526" width="2" height="1" fill="#000"/>
<rect x="1613" y="559" width="2" height="1" fill="#000"/>
<text x="1618" y="563" font-size="10" fill="#000" textLength="27.5" lengthAdjust="spacingAndGlyphs">65.945</text>
<rect x="1613" y="592" width="2" height="1" fill="#000"/>
<text x="1618" y="596" font-size="10" fill="#000" textLength="27.5" lengthAdjust="spacingAndGlyphs">64.970</text>
<rect x="1613" y="625" width="2" height="1" fill="#000"/>
<text x="1618" y="629" font-size="10" fill="#000" textLength="27.5" lengthAdjust="spacingAndGlyphs">63.995</text>
<rect x="1614" y="379" width="36" height="11" fill="#ff0000"/>
<text x="1618" y="388" font-size="10" fill="#fff" textLength="27.5" lengthAdjust="spacingAndGlyphs">71.129</text>
<rect x="1614" y="408" width="36" height="11" fill="#ff0000"/>
<text x="1618" y="417" font-size="10" fill="#fff" textLength="27.5" lengthAdjust="spacingAndGlyphs">70.269</text>
<rect x="1614" y="436" width="36" height="11" fill="#000"/>
<text x="1618" y="445" font-size="10" fill="#fff" textLength="27.5" lengthAdjust="spacingAndGlyphs">69.467</text>
<rect x="1614" y="456" width="36" height="11" fill="#ff8c00"/>
<text x="1618" y="465" font-size="10" fill="#fff" textLength="27.5" lengthAdjust="spacingAndGlyphs">68.845</text>
<rect x="1614" y="490" width="36" height="11" fill="#0000ff"/>
<text x="1618" y="499" font-size="10" fill="#fff" textLength="27.5" lengthAdjust="spacingAndGlyphs">67.836</text>
<rect x="1614" y="522" width="36" height="11" fill="#0000ff"/>
<text x="1618" y="531" font-size="10" fill="#fff" textLength="27.5" lengthAdjust="spacingAndGlyphs">66.887</text>
<polygon points="8,33 15,33 11.5,37" fill="#000"/>
<text x="20" y="38" font-size="10" fill="#000" textLength="169.5" lengthAdjust="spacingAndGlyphs">USOil-,H4&#160;&#160;69.570 69.637 69.380 69.467</text>
<g shape-rendering="crispEdges">
<rect x="4" y="651" width="3" height="6" fill="#00ff00"/>
<rect x="20" y="650" width="3" height="7" fill="#00ff00"/>
<rect x="36" y="651" width="3" height="6" fill="#00ff00"/>
<rect x="52" y="650" width="3" height="7" fill="#00ff00"/>
<rect x="68" y="648" width="3" height="9" fill="#00ff00"/>
<rect x="84" y="648" width="3" height="9" fill="#00ff00"/>
<rect x="100" y="647" width="3" height="10" fill="#00ff00"/>
<rect x="116" y="647" width="3" height="10" fill="#00ff00"/>
<rect x="132" y="646" width="3" height="11" fill="#00ff00"/>
<rect x="148" y="645" width="3" height="12" fill="#00ff00"/>
<rect x="164" y="645" width="3" height="12" fill="#00ff00"/>
<rect x="180" y="645" width="3" height="12" fill="#00ff00"/>
<rect x="196" y="645" width="3" height="12" fill="#00ff00"/>
<rect x="212" y="646" width="3" height="11" fill="#00ff00"/>
<rect x="228" y="646" width="3" height="11" fill="#00ff00"/>
<rect x="244" y="646" width="3" height="11" fill="#00ff00"/>
<rect x="260" y="642" width="3" height="15" fill="#00ff00"/>
<rect x="276" y="640" width="3" height="17" fill="#00ff00"/>
<rect x="292" y="639" width="3" height="18" fill="#00ff00"/>
<rect x="308" y="639" width="3" height="18" fill="#00ff00"/>
<rect x="324" y="639" width="3" height="18" fill="#00ff00"/>
<rect x="340" y="642" width="3" height="15" fill="#00ff00"/>
<rect x="356" y="642" width="3" height="15" fill="#00ff00"/>
<rect x="372" y="639" width="3" height="18" fill="#00ff00"/>
<rect x="388" y="637" width="3" height="20" fill="#00ff00"/>
<rect x="404" y="636" width="3" height="21" fill="#00ff00"/>
<rect x="420" y="635" width="3" height="22" fill="#00ff00"/>
<rect x="436" y="637" width="3" height="20" fill="#00ff00"/>
<rect x="452" y="639" width="3" height="18" fill="#00ff00"/>
<rect x="468" y="647" width="3" height="10" fill="#00ff00"/>
<rect x="484" y="651" width="3" height="6" fill="#00ff00"/>
<rect x="500" y="654" width="3" height="3" fill="#00ff00"/>
<rect x="516" y="657" width="3" height="2" fill="#00ff00"/>
<rect x="532" y="657" width="3" height="4" fill="#00ff00"/>
<rect x="548" y="657" width="3" height="7" fill="#00ff00"/>
<rect x="564" y="657" width="3" height="10" fill="#00ff00"/>
<rect x="580" y="657" width="3" height="12" fill="#00ff00"/>
<rect x="596" y="657" width="3" height="13" fill="#00ff00"/>
<rect x="612" y="657" width="3" height="14" fill="#00ff00"/>
<rect x="628" y="657" width="3" height="14" fill="#00ff00"/>
<rect x="644" y="657" width="3" height="14" fill="#00ff00"/>
<rect x="660" y="657" width="3" height="16" fill="#00ff00"/>
<rect x="676" y="657" width="3" height="18" fill="#00ff00"/>
<rect x="692" y="657" width="3" height="20" fill="#00ff00"/>
<rect x="708" y="657" width="3" height="21" fill="#00ff00"/>
<rect x="724" y="657" width="3" height="22" fill="#00ff00"/>
<rect x="740" y="657" width="3" height="20" fill="#00ff00"/>
<rect x="756" y="657" width="3" height="16" fill="#00ff00"/>
<rect x="772" y="657" width="3" height="16" fill="#00ff00"/>
<rect x="788" y="657" width="3" height="13" fill="#00ff00"/>
<rect x="804" y="657" width="3" height="11" fill="#00ff00"/>
<rect x="820" y="657" width="3" height="9" fill="#00ff00"/>
<rect x="836" y="657" width="3" height="13" fill="#00ff00"/>
<rect x="852" y="657" width="3" height="12" fill="#00ff00"/>
<rect x="868" y="657" width="3" height="15" fill="#00ff00"/>
<rect x="884" y="657" width="3" height="17" fill="#00ff00"/>
<rect x="900" y="657" width="3" height="19" fill="#00ff00"/>
<rect x="916" y="657" width="3" height="21" fill="#00ff00"/>
<rect x="932" y="657" width="3" height="23" fill="#00ff00"/>
<rect x="948" y="657" width="3" height="24" fill="#00ff00"/>
<rect x="964" y="657" width="3" height="28" fill="#00ff00"/>
<rect x="980" y="657" width="3" height="31" fill="#00ff00"/>
<rect x="996" y="657" width="3" height="32" fill="#00ff00"/>
<rect x="1012" y="657" width="3" height="33" fill="#00ff00"/>
<rect x="1028" y="657" width="3" height="36" fill="#00ff00"/>
<rect x="1044" y="657" width="3" height="45" fill="#00ff00"/>
<rect x="1060" y="657" width="3" height="50" fill="#00ff00"/>
<rect x="1076" y="657" width="3" height="53" fill="#00ff00"/>
<rect x="1092" y="657" width="3" height="55" fill="#00ff00"/>
<rect x="1108" y="657" width="3" height="57" fill="#00ff00"/>
<rect x="1124" y="657" width="3" height="58" fill="#00ff00"/>
<rect x="1140" y="657" width="3" height="57" fill="#00ff00"/>
<rect x="1156" y="657" width="3" height="56" fill="#00ff00"/>
<rect x="1172" y="657" width="3" height="52" fill="#00ff00"/>
<rect x="1188" y="657" width="3" height="50" fill="#00ff00"/>
<rect x="1204" y="657" width="3" height="46" fill="#00ff00"/>
<rect x="1220" y="657" width="3" height="43" fill="#00ff00"/>
<rect x="1236" y="657" width="3" height="45" fill="#00ff00"/>
<rect x="1252" y="657" width="3" height="46" fill="#00ff00"/>
<rect x="1268" y="657" width="3" height="45" fill="#00ff00"/>
<rect x="1284" y="657" width="3" height="45" fill="#00ff00"/>
<rect x="1300" y="657" width="3" height="48" fill="#00ff00"/>
<rect x="1316" y="657" width="3" height="47" fill="#00ff00"/>
<rect x="1332" y="657" width="3" height="44" fill="#00ff00"/>
<rect x="1348" y="657" width="3" height="41" fill="#00ff00"/>
<rect x="1364" y="657" width="3" height="37" fill="#00ff00"/>
<rect x="1380" y="657" width="3" height="35" fill="#00ff00"/>
<rect x="1396" y="657" width="3" height="33" fill="#00ff00"/>
<rect x="1412" y="657" width="3" height="28" fill="#00ff00"/>
<rect x="1428" y="657" width="3" height="24" fill="#00ff00"/>
<rect x="1444" y="657" width="3" height="18" fill="#00ff00"/>
<rect x="1460" y="657" width="3" height="14" fill="#00ff00"/>
</g>
<polyline points="5,655.5 21,654.6 37,654 53,653 69,652 85,651 101,650 117,649 133,648.6 149,648 165,647 181,647 197,646 213,646 229,646 245,646 261,645 277,644 293,643.3 309,643.3 325,643 341,642 357,641 373,641 389,640 405,639 421,639 437,638 453,638 469,639.6 485,640 501,642 517,644 533,646.2 549,650 565,653.5 581,656.5 597,660.6 613,662.4 629,663.7 645,665.3 661,666.9 677,668 693,669.5 709,671.3 725,673 741,674 757,674 773,674 789,674 805,674 821,673.4 837,672.2 853,671 869,670.2 885,670 901,670 917,671 933,672 949,673.3 965,675.3 981,677.3 997,679.5 1013,681.3 1029,684.3 1045,686.6 1061,690.6 1077,693.2 1093,697.5 1109,700.5 1125,703.2 1141,705.2 1157,708.1 1173,709.8 1189,709.8 1205,709.9 1221,709.6 1237,708.4 1253,706.6 1269,705.2 1285,704.3 1301,703.2 1317,702.1 1333,701.9 1349,700.9 1365,700.1 1381,698.9 1397,697.9 1413,696.1 1429,692.8 1445,689.9 1461,687" fill="none" stroke="#ff0000" stroke-width="2" shape-rendering="crispEdges" clip-path="url(#cmacd)"/>
<defs><clipPath id="cmacd"><rect x="5" y="631" width="1607" height="87"/></clipPath></defs>
<text x="9" y="643" font-size="10" fill="#000" textLength="134" lengthAdjust="spacingAndGlyphs">MACD(12,26,9) -0.4826 -1.1489</text>
<rect x="1613" y="632" width="2" height="1" fill="#000"/>
<text x="1616.5" y="641" font-size="10" fill="#000" textLength="27.6" lengthAdjust="spacingAndGlyphs">1.0278</text>
<rect x="1613" y="657" width="2" height="1" fill="#000"/>
<text x="1616.5" y="661" font-size="10" fill="#000" textLength="17.4" lengthAdjust="spacingAndGlyphs">0.00</text>
<rect x="1613" y="716" width="2" height="1" fill="#000"/>
<text x="1616" y="715" font-size="10" fill="#000" textLength="30.6" lengthAdjust="spacingAndGlyphs">-2.3797</text>
<line x1="6" y1="738.5" x2="1611" y2="738.5" stroke="#000" stroke-width="1" stroke-dasharray="3,3"/>
<line x1="6" y1="762.5" x2="1611" y2="762.5" stroke="#000" stroke-width="1" stroke-dasharray="3,3"/>
<line x1="6" y1="791.5" x2="1611" y2="791.5" stroke="#000" stroke-width="1" stroke-dasharray="3,3"/>
<defs><clipPath id="crsi"><rect x="5" y="721" width="1607" height="83"/></clipPath></defs>
<polyline points="5,752.2 21,752.2 37,762.5 53,754.9 69,754.9 85,754.9 101,754.9 117,756.8 133,752.2 149,752.2 165,753.1 181,754.6 197,754.6 213,755.8 229,755.8 245,748 261,743.5 277,743.5 293,748.8 309,751.7 325,751 341,758.6 357,754.6 373,748 389,747.7 405,747.7 421,747.7 437,755 453,764 469,771.8 485,770 501,768.7 517,769.8 533,769.8 549,772.7 565,772.7 581,772.7 597,771.8 613,771.8 629,770 645,768.5 661,775.8 677,776.3 693,776.7 709,776.7 725,776.7 741,768.2 757,765.5 773,764.4 789,761.8 805,761.8 821,761.8 837,774.9 853,766.7 869,771.8 885,771.8 901,772.7 917,773 933,775 949,773.6 965,779.6 981,778.1 997,775.2 1013,774.9 1029,780.3 1045,786.1 1061,781.2 1077,781.8 1093,782.1 1109,782.1 1125,782.1 1141,782.1 1157,780.3 1173,778.6 1189,772.8 1205,773.4 1221,774 1237,780.5 1253,780 1269,777.7 1285,779 1301,782.8 1317,775.8 1333,774.3 1349,768.2 1365,768.3 1381,769.7 1397,769.7 1413,763.1 1429,763.1 1445,759 1461,759" fill="none" stroke="#1e90ff" stroke-width="2" shape-rendering="crispEdges" clip-path="url(#crsi)"/>
<text x="9" y="733" font-size="10" fill="#000" textLength="66.5" lengthAdjust="spacingAndGlyphs">RSI(14) 54.3551</text>
<rect x="1613" y="722" width="2" height="1" fill="#000"/>
<text x="1616.5" y="731" font-size="10" fill="#000" textLength="14" lengthAdjust="spacingAndGlyphs">100</text>
<rect x="1610" y="738" width="2" height="1" fill="#000"/>
<text x="1615.4" y="742" font-size="10" fill="#000" textLength="9.6" lengthAdjust="spacingAndGlyphs">80</text>
<rect x="1610" y="762" width="2" height="1" fill="#000"/>
<text x="1615.4" y="766" font-size="10" fill="#000" textLength="9.6" lengthAdjust="spacingAndGlyphs">50</text>
<rect x="1610" y="791" width="2" height="1" fill="#000"/>
<text x="1615.4" y="795" font-size="10" fill="#000" textLength="9.6" lengthAdjust="spacingAndGlyphs">15</text>
<text x="1615.4" y="801" font-size="10" fill="#000" textLength="4.7" lengthAdjust="spacingAndGlyphs">0</text>
<rect x="1613" y="802" width="2" height="1" fill="#000"/>
<rect x="5" y="805" width="1" height="3" fill="#000"/>
<text x="4.5" y="816.9" font-size="10" fill="#000" textLength="46.2" lengthAdjust="spacingAndGlyphs">1 Mar 2023</text>
<rect x="69" y="805" width="1" height="3" fill="#000"/>
<text x="68.5" y="816.9" font-size="10" fill="#000" textLength="49" lengthAdjust="spacingAndGlyphs">1 Mar 16:00</text>
<rect x="133" y="805" width="1" height="3" fill="#000"/>
<text x="132.5" y="816.9" font-size="10" fill="#000" textLength="49" lengthAdjust="spacingAndGlyphs">2 Mar 08:00</text>
<rect x="197" y="805" width="1" height="3" fill="#000"/>
<text x="196.5" y="816.9" font-size="10" fill="#000" textLength="49" lengthAdjust="spacingAndGlyphs">3 Mar 00:00</text>
<rect x="261" y="805" width="1" height="3" fill="#000"/>
<text x="260.5" y="816.9" font-size="10" fill="#000" textLength="49" lengthAdjust="spacingAndGlyphs">3 Mar 16:00</text>
<rect x="325" y="805" width="1" height="3" fill="#000"/>
<text x="324.5" y="816.9" font-size="10" fill="#000" textLength="49" lengthAdjust="spacingAndGlyphs">6 Mar 04:00</text>
<rect x="389" y="805" width="1" height="3" fill="#000"/>
<text x="388.5" y="816.9" font-size="10" fill="#000" textLength="49" lengthAdjust="spacingAndGlyphs">6 Mar 20:00</text>
<rect x="453" y="805" width="1" height="3" fill="#000"/>
<text x="452.5" y="816.9" font-size="10" fill="#000" textLength="49" lengthAdjust="spacingAndGlyphs">7 Mar 12:00</text>
<rect x="517" y="805" width="1" height="3" fill="#000"/>
<text x="516.5" y="816.9" font-size="10" fill="#000" textLength="49" lengthAdjust="spacingAndGlyphs">8 Mar 04:00</text>
<rect x="581" y="805" width="1" height="3" fill="#000"/>
<text x="580.5" y="816.9" font-size="10" fill="#000" textLength="49" lengthAdjust="spacingAndGlyphs">8 Mar 20:00</text>
<rect x="645" y="805" width="1" height="3" fill="#000"/>
<text x="644.5" y="816.9" font-size="10" fill="#000" textLength="49" lengthAdjust="spacingAndGlyphs">9 Mar 12:00</text>
<rect x="709" y="805" width="1" height="3" fill="#000"/>
<text x="708.5" y="816.9" font-size="10" fill="#000" textLength="54.3" lengthAdjust="spacingAndGlyphs">10 Mar 04:00</text>
<rect x="773" y="805" width="1" height="3" fill="#000"/>
<text x="772.5" y="816.9" font-size="10" fill="#000" textLength="54.3" lengthAdjust="spacingAndGlyphs">10 Mar 20:00</text>
<rect x="837" y="805" width="1" height="3" fill="#000"/>
<text x="836.5" y="816.9" font-size="10" fill="#000" textLength="54.3" lengthAdjust="spacingAndGlyphs">13 Mar 08:00</text>
<rect x="901" y="805" width="1" height="3" fill="#000"/>
<text x="900.5" y="816.9" font-size="10" fill="#000" textLength="54.3" lengthAdjust="spacingAndGlyphs">14 Mar 00:00</text>
<rect x="965" y="805" width="1" height="3" fill="#000"/>
<text x="964.5" y="816.9" font-size="10" fill="#000" textLength="54.3" lengthAdjust="spacingAndGlyphs">14 Mar 16:00</text>
<rect x="1029" y="805" width="1" height="3" fill="#000"/>
<text x="1028.5" y="816.9" font-size="10" fill="#000" textLength="54.3" lengthAdjust="spacingAndGlyphs">15 Mar 08:00</text>
<rect x="1093" y="805" width="1" height="3" fill="#000"/>
<text x="1092.5" y="816.9" font-size="10" fill="#000" textLength="54.3" lengthAdjust="spacingAndGlyphs">16 Mar 00:00</text>
<rect x="1157" y="805" width="1" height="3" fill="#000"/>
<text x="1156.5" y="816.9" font-size="10" fill="#000" textLength="54.3" lengthAdjust="spacingAndGlyphs">16 Mar 16:00</text>
<rect x="1221" y="805" width="1" height="3" fill="#000"/>
<text x="1220.5" y="816.9" font-size="10" fill="#000" textLength="54.3" lengthAdjust="spacingAndGlyphs">17 Mar 08:00</text>
<rect x="1285" y="805" width="1" height="3" fill="#000"/>
<text x="1284.5" y="816.9" font-size="10" fill="#000" textLength="54.3" lengthAdjust="spacingAndGlyphs">20 Mar 00:00</text>
<rect x="1349" y="805" width="1" height="3" fill="#000"/>
<text x="1348.5" y="816.9" font-size="10" fill="#000" textLength="54.3" lengthAdjust="spacingAndGlyphs">20 Mar 16:00</text>
<rect x="1413" y="805" width="1" height="3" fill="#000"/>
<text x="1412.5" y="816.9" font-size="10" fill="#000" textLength="54.3" lengthAdjust="spacingAndGlyphs">21 Mar 08:00</text>
</svg>
</body></html>
